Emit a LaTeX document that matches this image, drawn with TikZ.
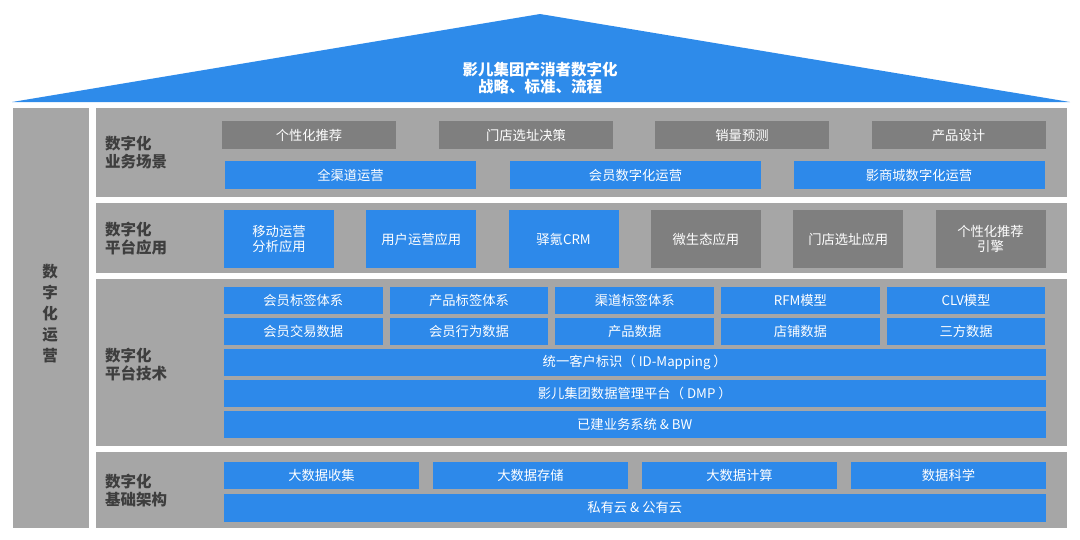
\documentclass[tikz,border=0pt]{standalone}
\usepackage{fontspec}
\setmainfont{Noto Sans CJK SC}
\definecolor{roofblue}{RGB}{46,139,234}
\definecolor{boxblue}{RGB}{45,137,234}
\definecolor{panelgray}{RGB}{166,166,166}
\definecolor{boxgray}{RGB}{127,127,127}
\definecolor{labeltext}{RGB}{62,62,62}
\begin{document}
\begin{tikzpicture}[x=1pt,y=-1pt,
  panel/.style={fill=panelgray, draw=none, inner sep=0pt, outer sep=0pt, anchor=north west},
  bbox/.style={fill=boxblue, text=white, draw=none, inner sep=0pt, outer sep=0pt, anchor=north west,
    font=\fontsize{13.3}{15}\selectfont, align=center},
  gbox/.style={bbox, fill=boxgray},
  seclabel/.style={anchor=west, align=left, text=labeltext, inner sep=0pt,
    font=\fontsize{15.5}{18}\selectfont\bfseries}]
\useasboundingbox (0,0) rectangle (1080,539);
% roof
\fill[roofblue] (12,102) -- (540,14) -- (1070,102) -- cycle;
\node[text=white, align=center, font=\fontsize{15.5}{17.5}\selectfont\bfseries] (roof) at (540,78) {影儿集团产消者数字化\\战略、标准、流程};
% left column
\node[panel, minimum width=76pt, minimum height=420pt] (leftcol) at (13,108) {};
\node[text=labeltext, align=center, font=\fontsize{15.5}{21}\selectfont\bfseries] (lefttxt) at (50,314) {数\\字\\化\\运\\营};
% section panels
\node[panel, minimum width=971pt, minimum height=89.5pt] (s1) at (96,107.5) {};
\node[panel, minimum width=971pt, minimum height=70pt] (s2) at (96,203.3) {};
\node[panel, minimum width=971pt, minimum height=166.4pt] (s3) at (96,279.3) {};
\node[panel, minimum width=971pt, minimum height=76pt] (s4) at (96,452.3) {};
% section labels
\node[seclabel] (l1) at (105,152.5) {数字化\\业务场景};
\node[seclabel] (l2) at (105,239) {数字化\\平台应用};
\node[seclabel] (l3) at (105,364.5) {数字化\\平台技术};
\node[seclabel] (l4) at (105,491) {数字化\\基础架构};
% section 1
\node[gbox, minimum width=174pt, minimum height=28.3pt] (a1) at (222,121) {个性化推荐};
\node[gbox, minimum width=174pt, minimum height=28.3pt] (a2) at (439,121) {门店选址决策};
\node[gbox, minimum width=174pt, minimum height=28.3pt] (a3) at (655,121) {销量预测};
\node[gbox, minimum width=174pt, minimum height=28.3pt] (a4) at (871.5,121) {产品设计};
\node[bbox, minimum width=251pt, minimum height=28pt] (b1) at (225,161) {全渠道运营};
\node[bbox, minimum width=251pt, minimum height=28pt] (b2) at (510,161) {会员数字化运营};
\node[bbox, minimum width=251pt, minimum height=28pt] (b3) at (793.5,161) {影商城数字化运营};
% section 2
\node[bbox, minimum width=110pt, minimum height=58pt] (c1) at (224,210) {移动运营\\分析应用};
\node[bbox, minimum width=110pt, minimum height=58pt] (c2) at (366.3,210) {用户运营应用};
\node[bbox, minimum width=110pt, minimum height=58pt] (c3) at (508.6,210) {驿氪CRM};
\node[gbox, minimum width=110pt, minimum height=58pt] (c4) at (650.9,210) {微生态应用};
\node[gbox, minimum width=110pt, minimum height=58pt] (c5) at (793.2,210) {门店选址应用};
\node[gbox, minimum width=110pt, minimum height=58pt] (c6) at (935.5,210) {个性化推荐\\引擎};
% section 3
\node[bbox, minimum width=158.6pt, minimum height=27pt] (d1) at (224,287.3) {会员标签体系};
\node[bbox, minimum width=158.6pt, minimum height=27pt] (d2) at (389.7,287.3) {产品标签体系};
\node[bbox, minimum width=158.6pt, minimum height=27pt] (d3) at (555.4,287.3) {渠道标签体系};
\node[bbox, minimum width=158.6pt, minimum height=27pt] (d4) at (721.1,287.3) {RFM模型};
\node[bbox, minimum width=158.6pt, minimum height=27pt] (d5) at (886.8,287.3) {CLV模型};
\node[bbox, minimum width=158.6pt, minimum height=27pt] (e1) at (224,317.5) {会员交易数据};
\node[bbox, minimum width=158.6pt, minimum height=27pt] (e2) at (389.7,317.5) {会员行为数据};
\node[bbox, minimum width=158.6pt, minimum height=27pt] (e3) at (555.4,317.5) {产品数据};
\node[bbox, minimum width=158.6pt, minimum height=27pt] (e4) at (721.1,317.5) {店铺数据};
\node[bbox, minimum width=158.6pt, minimum height=27pt] (e5) at (886.8,317.5) {三方数据};
\node[bbox, minimum width=821.5pt, minimum height=27pt] (f1) at (224,349) {统一客户标识（ ID-Mapping ）};
\node[bbox, minimum width=821.5pt, minimum height=27pt] (f2) at (224,379.5) {影儿集团数据管理平台（ DMP ）};
\node[bbox, minimum width=821.5pt, minimum height=27pt] (f3) at (224,410.7) {已建业务系统 \& BW};
% section 4
\node[bbox, minimum width=195pt, minimum height=27.3pt] (g1) at (224,461.7) {大数据收集};
\node[bbox, minimum width=195pt, minimum height=27.3pt] (g2) at (433,461.7) {大数据存储};
\node[bbox, minimum width=195pt, minimum height=27.3pt] (g3) at (642,461.7) {大数据计算};
\node[bbox, minimum width=195pt, minimum height=27.3pt] (g4) at (851,461.7) {数据科学};
\node[bbox, minimum width=821.5pt, minimum height=27.7pt] (h1) at (224,494) {私有云 \& 公有云};
\end{tikzpicture}
\end{document}
